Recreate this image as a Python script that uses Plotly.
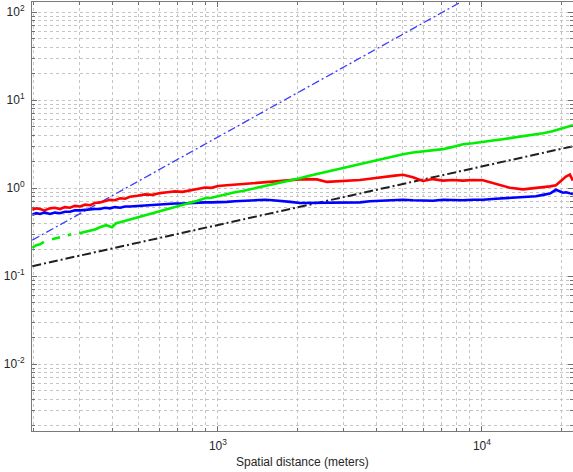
import plotly.graph_objects as go

# ---------------- data ----------------
dist = [198, 205, 212, 220, 231, 241, 252, 263, 275, 287, 300, 314, 328, 342, 357, 373,
        390, 407, 426, 445, 464, 496, 529, 565, 603, 644, 687, 734, 783, 836, 893, 945,
        1000, 1080, 1160, 1240, 1322, 1410, 1507, 1610, 1718, 1880, 2045, 2200, 2371, 2588,
        2898, 3150, 3451, 3760, 4109, 4683, 5022, 5478, 5977, 6522, 7117, 7750, 8474, 9250,
        10087, 11300, 12770, 14300, 16020, 17020, 18100, 19070, 20270, 20810, 21540, 22110]

red_vals = [0.57, 0.59, 0.58, 0.56, 0.59, 0.60, 0.58, 0.61, 0.60, 0.63, 0.62, 0.65, 0.64,
            0.68, 0.69, 0.71, 0.74, 0.73, 0.77, 0.76, 0.80, 0.82, 0.85, 0.84, 0.88, 0.90,
            0.92, 0.91, 0.95, 0.98, 1.02, 1.01, 1.06, 1.08, 1.10, 1.12, 1.13, 1.16, 1.18,
            1.20, 1.22, 1.24, 1.26, 1.27, 1.26, 1.18, 1.20, 1.22, 1.24, 1.28, 1.33, 1.39,
            1.42, 1.33, 1.21, 1.27, 1.22, 1.24, 1.22, 1.24, 1.23, 1.12, 1.01, 0.97, 1.00,
            1.03, 1.05, 1.08, 1.25, 1.36, 1.43, 1.22]

blue_vals = [0.50, 0.52, 0.51, 0.53, 0.51, 0.53, 0.52, 0.54, 0.54, 0.56, 0.56, 0.57, 0.57,
             0.58, 0.58, 0.60, 0.59, 0.61, 0.60, 0.62, 0.62, 0.63, 0.63, 0.65, 0.65, 0.66,
             0.67, 0.67, 0.68, 0.68, 0.69, 0.69, 0.69, 0.70, 0.71, 0.72, 0.73, 0.74, 0.74,
             0.73, 0.72, 0.70, 0.68, 0.68, 0.69, 0.69, 0.68, 0.69, 0.69, 0.71, 0.72, 0.73,
             0.74, 0.73, 0.73, 0.72, 0.74, 0.73, 0.73, 0.74, 0.74, 0.76, 0.78, 0.80, 0.81,
             0.84, 0.87, 0.96, 0.89, 0.90, 0.87, 0.86]

green_dist = [198, 205, 212, 219, None, 235, 243, 252, None, 270, 278, None, 298, 314, 328,
              342, 357, 377, 397, 411, 426, 445, 464, 496, 529, 565, 603, 644, 687, 734, 783,
              836, 893, 945, 1000, 1080, 1160, 1240, 1322, 1410, 1507, 1610, 1718, 1880,
              2045, 2200, 2434, 2650, 2898, 3150, 3451, 3760, 4109, 4683, 5022, 5478, 5977,
              6522, 7117, 7750, 8474, 9250, 10087, 11000, 12010, 13100, 14300, 15600,
              17020, 18500, 20270, 21200, 22110]
green_vals = [0.21, 0.225, 0.23, 0.245, None, 0.263, 0.27, 0.277, None, 0.292, 0.30, None,
              0.308, 0.32, 0.335, 0.34, 0.36, 0.38, 0.36, 0.40, 0.41, 0.425, 0.435, 0.46,
              0.49, 0.52, 0.55, 0.57, 0.61, 0.64, 0.675, 0.72, 0.77, 0.78, 0.81, 0.86, 0.90,
              0.93, 0.97, 1.01, 1.05, 1.09, 1.14, 1.21, 1.30, 1.38, 1.48, 1.57, 1.69, 1.77,
              1.87, 2.00, 2.14, 2.32, 2.43, 2.55, 2.63, 2.70, 2.78, 2.95, 3.16, 3.25, 3.33,
              3.48, 3.61, 3.75, 3.90, 4.05, 4.22, 4.45, 4.81, 5.00, 5.20]

slope53_dist = [198, 22110]
slope53_vals = [0.257, 667]

slope23_dist = [198, 22110]
slope23_vals = [0.130, 3.0]

x_tickvals = [1e3, 1e4]
x_ticktext = ["10<sup>3</sup>", "10<sup>4</sup>"]
y_tickvals = [1e-2, 1e-1, 1e0, 1e1, 1e2]
y_ticktext = ["10<sup>-2</sup>", "10<sup>-1</sup>", "10<sup>0</sup>", "10<sup>1</sup>",
              "10<sup>2</sup>"]
x_title = "Spatial distance (meters)"

# ---------------- figure ----------------
FONT = "Liberation Sans, Arial"
fig = go.Figure()
fig.add_trace(go.Scatter(x=slope53_dist, y=slope53_vals, mode="lines",
                         line=dict(color="#3b3bff", width=1.3, dash="8px,3px,2px,3px")))
fig.add_trace(go.Scatter(x=slope23_dist, y=slope23_vals, mode="lines",
                         line=dict(color="#202020", width=2, dash="9px,3px,2px,3px")))
fig.add_trace(go.Scatter(x=dist, y=red_vals, mode="lines",
                         line=dict(color="#ff0000", width=2.6)))
fig.add_trace(go.Scatter(x=dist, y=blue_vals, mode="lines",
                         line=dict(color="#0000ff", width=2.6)))
fig.add_trace(go.Scatter(x=green_dist, y=green_vals, mode="lines", connectgaps=False,
                         line=dict(color="#00ee00", width=2.6)))

grid = dict(showgrid=True, gridcolor="#c4c4c4", griddash="dot", gridwidth=1)
minor = dict(ticks="inside", ticklen=3, tickcolor="#707070", dtick="D1",
             showgrid=True, gridcolor="#c4c4c4", griddash="dot", gridwidth=1)

fig.update_xaxes(type="log", range=[2.2955, 4.345], tickmode="array",
                 tickvals=x_tickvals, ticktext=x_ticktext, ticks="inside", ticklen=5,
                 tickcolor="#707070", showline=True, linecolor="#7a7a7a", linewidth=1,
                 mirror="allticks", zeroline=False, minor=minor, **grid,
                 automargin=False, ticklabelstandoff=4,
                 tickfont=dict(family=FONT, size=12, color="#262626"))
fig.update_yaxes(type="log", range=[-2.76, 2.117], tickmode="array",
                 tickvals=y_tickvals, ticktext=y_ticktext, ticks="inside", ticklen=5,
                 tickcolor="#707070", showline=True, linecolor="#7a7a7a", linewidth=1,
                 mirror="allticks", zeroline=False, minor=minor, **grid,
                 automargin=False, ticklabelstandoff=4,
                 tickfont=dict(family=FONT, size=12, color="#262626"))

fig.add_annotation(text=x_title, xref="paper", yref="paper", x=0.5, y=-31 / 429,
                   xanchor="center", yanchor="middle", showarrow=False,
                   font=dict(family=FONT, size=12, color="#262626"))

fig.update_layout(width=573, height=472, showlegend=False,
                  margin=dict(l=32, r=0, t=2, b=41),
                  plot_bgcolor="white", paper_bgcolor="white")

fig.write_html(
    "out.html",
    config={"displayModeBar": False},
    post_script="document.body.style.margin='0';"
                "document.documentElement.style.overflow='hidden';",
)
